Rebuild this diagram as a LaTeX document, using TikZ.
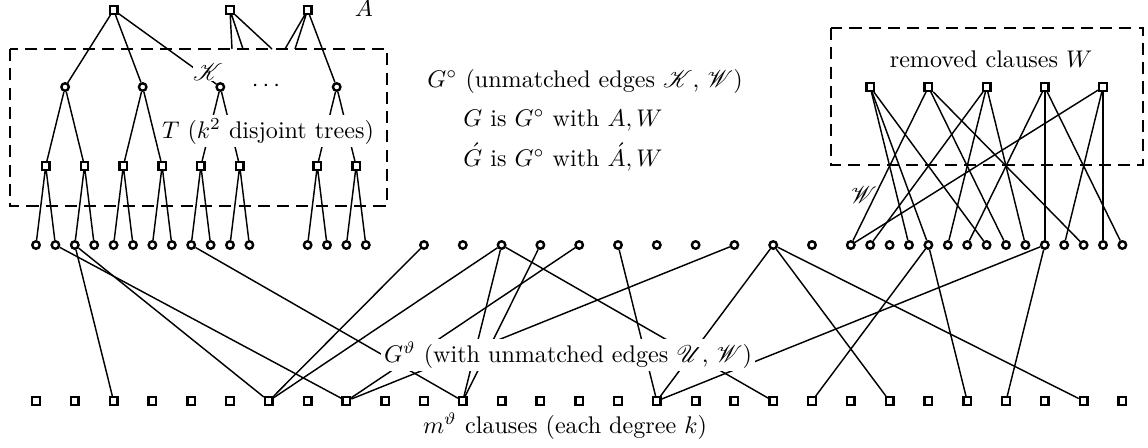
\documentclass[tikz,border=0pt]{standalone}
\usepackage{amsmath}
\usepackage{mathrsfs}
\pgfdeclarelayer{bgl}
\pgfsetlayers{bgl,main}
\begin{document}
\begin{tikzpicture}[x=0.415pt,y=-0.415pt,
  cl/.style={draw,rectangle,line width=1pt,fill=white,minimum size=3.1pt,inner sep=0pt},
  vc/.style={draw,circle,line width=1pt,fill=white,minimum size=3.1pt,inner sep=0pt},
  lnk/.style={line width=0.6pt},
  dbox/.style={line width=0.8pt,dash pattern=on 5pt off 3pt},
  occ/.style={fill=white,inner sep=1.2pt}]
\useasboundingbox (0,0) rectangle (1148,447);
% top clauses A
\node[cl] (A1) at (113.6,10) {};
\node[cl] (A2) at (230,10) {};
\node[cl] (A3) at (307.6,10) {};
% tree level 1
\foreach \n/\i in {1/1.5,2/5.5,3/9.5,4/15.5}
  \node[vc] (c\n) at ({36+19.4*\i},87) {};
% tree level 2
\foreach \n/\i in {1/0.5,2/2.5,3/4.5,4/6.5,5/8.5,6/10.5,7/14.5,8/16.5}
  \node[cl] (s\n) at ({36+19.4*\i},166) {};
% variable row
\foreach \i in {0,...,11}
  \node[vc] (v\i) at ({36+19.4*\i},245) {};
\foreach \i in {14,...,17}
  \node[vc] (v\i) at ({36+19.4*\i},245) {};
\foreach \i in {20,22,...,40}
  \node[vc] (v\i) at ({36+19.4*\i},245) {};
\foreach \i in {42,...,56}
  \node[vc] (v\i) at ({36+19.4*\i},245) {};
% bottom clauses
\foreach \j in {0,2,...,56}
  \node[cl] (b\j) at ({36+19.4*\j},401) {};
% removed clauses W
\foreach \n/\i in {1/43,2/46,3/49,4/52,5/55}
  \node[cl] (w\n) at ({36+19.4*\i},87) {};
% stub ends at box top
\coordinate (e1) at (232,49);
\coordinate (e2) at (243,49);
\coordinate (e3) at (272,49);
\coordinate (e4) at (285,49);
\coordinate (e5) at (295,49);
\begin{pgfonlayer}{bgl}
\draw[dbox] (10,49) rectangle (387,206);
\draw[dbox] (831,28) rectangle (1143,165);
\draw[lnk] (A1)--(c1) (A1)--(c2) (A1)--(c3);
\draw[lnk] (A2)--(e1) (A2)--(e2) (A2)--(e3);
\draw[lnk] (A3)--(e4) (A3)--(e5) (A3)--(c4);
\draw[lnk] (c1)--(s1) (c1)--(s2) (c2)--(s3) (c2)--(s4)
           (c3)--(s5) (c3)--(s6) (c4)--(s7) (c4)--(s8);
\foreach \s/\a/\b in {1/0/1,2/2/3,3/4/5,4/6/7,5/8/9,6/10/11,7/14/15,8/16/17}
  \draw[lnk] (s\s)--(v\a) (s\s)--(v\b);
\foreach \a/\b in {1/16,2/4,2/12,8/22,20/12,24/12,24/22,26/22,28/16,36/16,
                   30/32,24/38,38/32,38/44,38/54,52/32,46/40,46/48,52/50}
  \draw[lnk] (v\a)--(b\b);
\foreach \w/\a in {1/45,1/46,1/49,2/42,2/50,2/54,3/43,3/47,3/51,
                   4/48,4/52,4/56,5/42,5/53,5/55}
  \draw[lnk] (w\w)--(v\a);
\end{pgfonlayer}
% labels
\node (lA) at (364,8) {$A$};
\node[fill=white,inner sep=0.3pt] (lK) at (208,72) {$\mathscr{K}$};
\node (ldots) at (268,86) {$\cdots$};
\node[occ,anchor=base] (lT) at (268,138) {$T$ ($k^2$ disjoint trees)};
\node[anchor=base west,inner sep=0pt] (lG0) at (427,87) {$G^\circ$ (unmatched edges $\mathscr{K}$, $\mathscr{W}$)};
\node[anchor=base west,inner sep=0pt] (lG1) at (463,126) {$G$ is $G^\circ$ with $A, W$};
\node[anchor=base west,inner sep=0pt] (lG2) at (463,166) {$\acute{G}$ is $G^\circ$ with $\acute{A}, W$};
\node[anchor=base] (lW) at (991,67) {removed clauses $W$};
\node (lW2) at (864,195) {$\mathscr{W}$};
\node[occ,anchor=base] (lGt) at (568,362) {$G^\vartheta$ (with unmatched edges $\mathscr{U}$, $\mathscr{W}$)};
\node[anchor=base] (lm) at (565,433) {$m^\vartheta$ clauses (each degree $k$)};
\end{tikzpicture}
\end{document}
